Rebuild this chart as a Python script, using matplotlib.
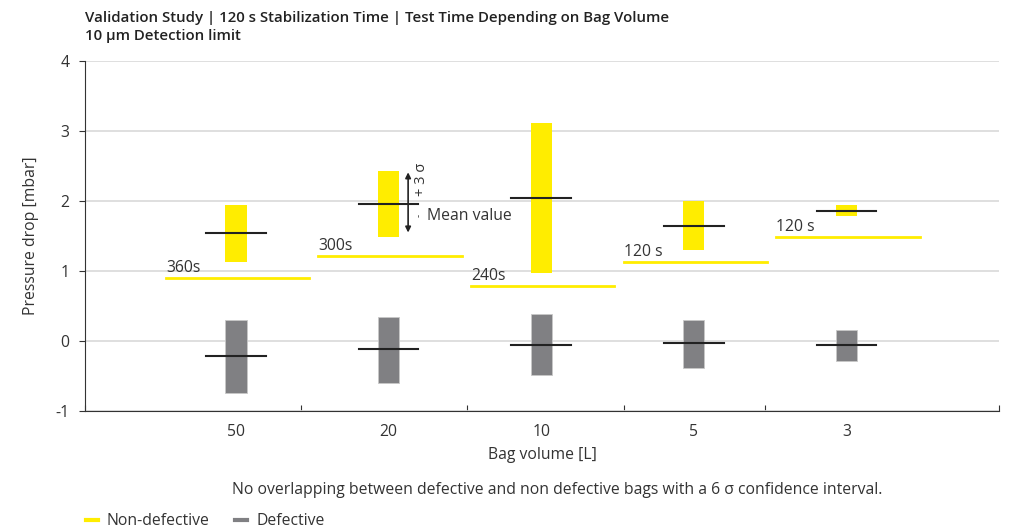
import matplotlib
matplotlib.use("Agg")
import matplotlib.pyplot as plt
from matplotlib.lines import Line2D

plt.rcParams['font.family'] = ['Open Sans', 'DejaVu Sans']

# Bag volumes and pressure-drop statistics (mbar)
volumes = ["50", "20", "10", "5", "3"]
ok_low = [1.13, 1.49, 0.97, 1.30, 1.78]
ok_high = [1.94, 2.43, 3.12, 2.00, 1.94]
ok_mean = [1.54, 1.96, 2.05, 1.65, 1.86]
def_low = [-0.74, -0.60, -0.48, -0.38, -0.28]
def_high = [0.30, 0.35, 0.38, 0.30, 0.16]
def_mean = [-0.22, -0.12, -0.05, -0.03, -0.06]
test_times = ["360s", "300s", "240s", "120 s", "120 s"]
limits = [0.90, 1.21, 0.78, 1.13, 1.48]
boundaries = [-0.99, 0.426, 1.515, 2.544, 3.469, 5.0]
yticks = [-1, 0, 1, 2, 3, 4]

YELLOW = "#FFED00"
GRAY = "#808083"
TEXT = "#333333"
FS = 11.3

fig = plt.figure(figsize=(10.09, 5.31), dpi=100)
ax = fig.add_axes([0.0842, 0.226, 0.9058, 0.659])

x = list(range(len(volumes)))
bw = 0.138
mw = 0.39

for xi, lo, hi, m in zip(x, ok_low, ok_high, ok_mean):
    ax.bar(xi, hi - lo, bottom=lo, width=bw, color=YELLOW, zorder=3)
    ax.plot([xi - mw / 2, xi + mw / 2], [m, m], color="#222222", lw=1.5, zorder=4)
for xi, lo, hi, m in zip(x, def_low, def_high, def_mean):
    ax.bar(xi, hi - lo, bottom=lo, width=bw, color=GRAY, edgecolor="#c8c8c8",
           linewidth=0.6, zorder=3)
    ax.plot([xi - mw / 2, xi + mw / 2], [m, m], color="#222222", lw=1.5, zorder=4)

# Test-time thresholds
for xi, lim, lab in zip(x, limits, test_times):
    ax.plot([xi - 0.46, xi + 0.48], [lim, lim], color=YELLOW, lw=2, zorder=2)
    ax.text(xi - 0.46, lim + 0.03, lab, ha="left", va="bottom",
            fontsize=FS, color=TEXT, zorder=5)

# Sigma annotation on the 20 L bag
ax.annotate("", xy=(1 + 0.128, 2.41), xytext=(1 + 0.128, 1.55),
            arrowprops=dict(arrowstyle="<|-|>", color="#222222", lw=1.2,
                            mutation_scale=8, shrinkA=0, shrinkB=0), zorder=5)
ax.text(1 + 0.215, 2.31, "+ 3 σ", rotation=90, ha="center", va="center",
        fontsize=10.5, color=TEXT)
ax.text(1 + 0.2, 1.79, "-", rotation=90, ha="center", va="center",
        fontsize=7, color=TEXT)
ax.text(1 + 0.25, 1.79, "Mean value", ha="left", va="center",
        fontsize=FS, color=TEXT)

ax.set_xlim(boundaries[0], boundaries[-1])
ax.set_ylim(-1, 4)
ax.set_yticks(yticks)
ax.set_yticklabels([str(v) for v in yticks], fontsize=FS, color=TEXT)
ax.yaxis.grid(True, color="#d9d9d9", lw=1.2, zorder=0)
ax.set_axisbelow(True)

ax.set_xticks(boundaries)
ax.set_xticklabels([])
ax.tick_params(axis="x", length=4, direction="in", color="#333333")
ax.tick_params(axis="y", length=4, direction="out", color="#333333", pad=7)
for xi, v in zip(x, volumes):
    ax.text(xi, -1.3, v, ha="center", va="center", fontsize=FS, color=TEXT,
            transform=ax.transData)

for s in ["top", "right"]:
    ax.spines[s].set_visible(False)
ax.spines["left"].set_color("#333333")
ax.spines["bottom"].set_color("#333333")

ax.set_ylabel("Pressure drop [mbar]", fontsize=FS, color=TEXT, labelpad=12)
fig.text(0.538, 1 - 455 / 531, "Bag volume [L]", ha="center", va="center",
         fontsize=FS, color=TEXT)
fig.text(0.552, 1 - 490 / 531,
         "No overlapping between defective and non defective bags with a 6 σ confidence interval.",
         ha="center", va="center", fontsize=FS, color=TEXT)

fig.text(0.0842, 1 - 18 / 531,
         "Validation Study | 120 s Stabilization Time | Test Time Depending on Bag Volume",
         ha="left", va="center", fontsize=10.8, fontweight="semibold", color="#222222")
fig.text(0.0842, 1 - 36 / 531, "10 µm Detection limit",
         ha="left", va="center", fontsize=10.8, fontweight="semibold", color="#222222")

handles = [Line2D([], [], color=YELLOW, lw=3), Line2D([], [], color=GRAY, lw=3)]
fig.legend(handles, ["Non-defective", "Defective"], loc="center left",
           bbox_to_anchor=(0.071, 1 - 521 / 531), ncol=2, frameon=False,
           fontsize=FS, handlelength=0.75, handletextpad=0.6, columnspacing=1.6,
           labelcolor=TEXT)

fig.savefig("out.png", dpi=100)
